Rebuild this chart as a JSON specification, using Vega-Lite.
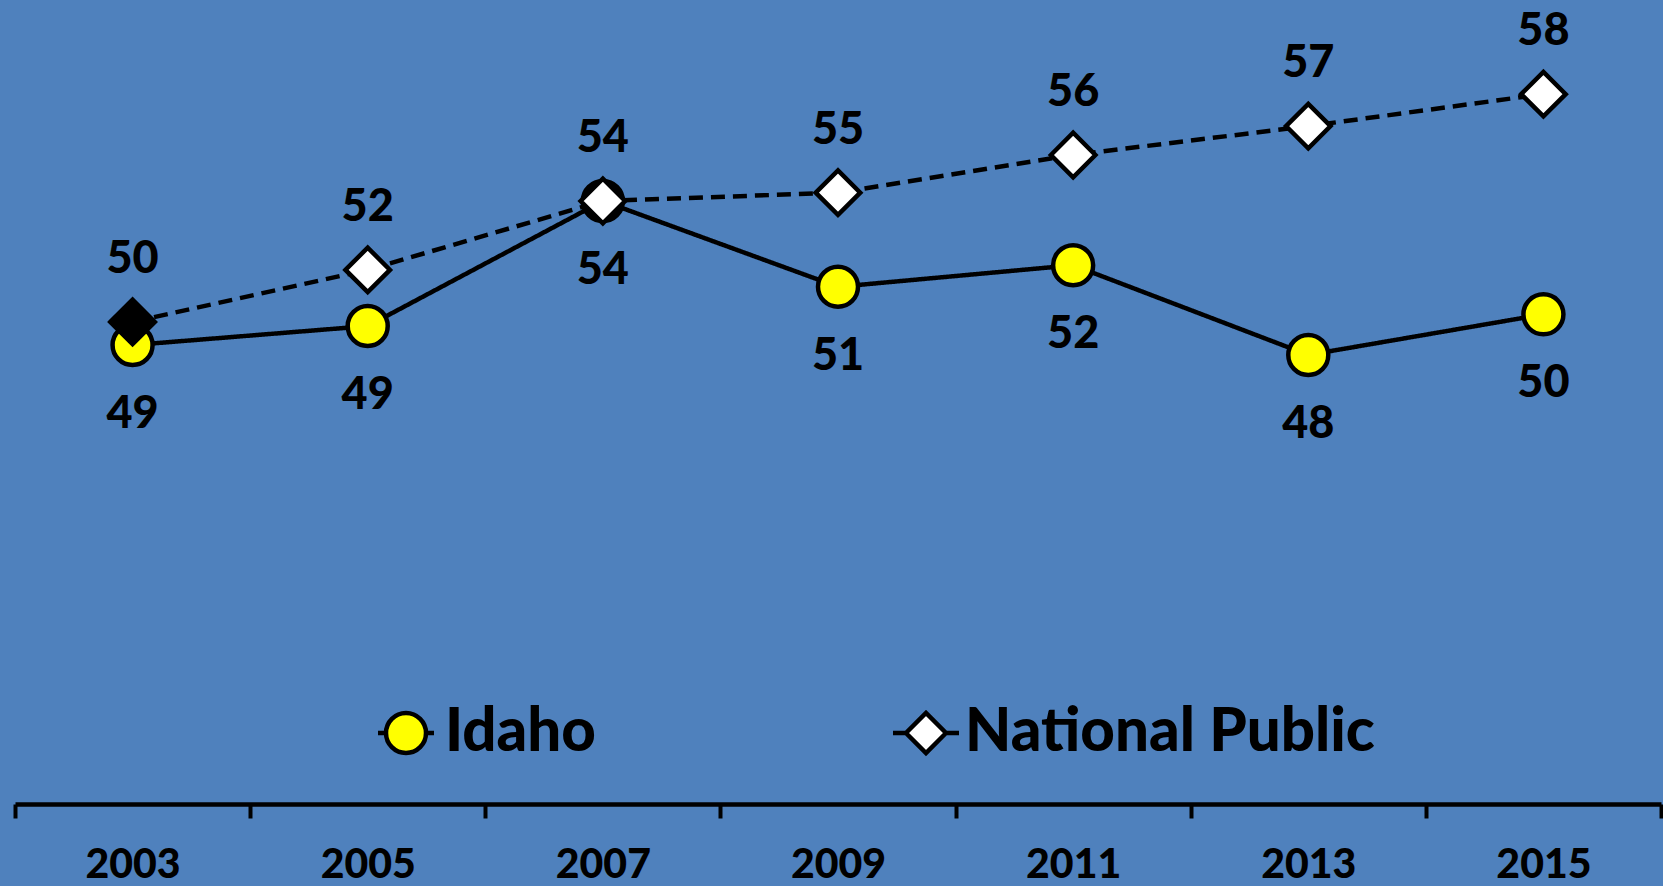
{
  "$schema": "https://vega.github.io/schema/vega-lite/v6.json",
  "width": 1646,
  "height": 804,
  "autosize": {"type": "none"},
  "padding": {"left": 15, "top": 0, "right": 2, "bottom": 82},
  "background": "#4F81BD",
  "config": {"view": {"stroke": null}, "font": "Lato"},
  "data": {
    "values": [
      {"year": "2003", "series": "Idaho", "value": 48.73, "highlight": false},
      {"year": "2005", "series": "Idaho", "value": 49.46, "highlight": false},
      {"year": "2007", "series": "Idaho", "value": 54.27, "highlight": true},
      {"year": "2009", "series": "Idaho", "value": 50.97, "highlight": false},
      {"year": "2011", "series": "Idaho", "value": 51.80, "highlight": false},
      {"year": "2013", "series": "Idaho", "value": 48.35, "highlight": false},
      {"year": "2015", "series": "Idaho", "value": 49.91, "highlight": false},
      {"year": "2003", "series": "National Public", "value": 49.62, "highlight": true},
      {"year": "2005", "series": "National Public", "value": 51.62, "highlight": false},
      {"year": "2007", "series": "National Public", "value": 54.27, "highlight": false},
      {"year": "2009", "series": "National Public", "value": 54.59, "highlight": false},
      {"year": "2011", "series": "National Public", "value": 56.04, "highlight": false},
      {"year": "2013", "series": "National Public", "value": 57.15, "highlight": false},
      {"year": "2015", "series": "National Public", "value": 58.38, "highlight": false}
    ]
  },
  "encoding": {
    "x": {
      "field": "year",
      "type": "ordinal",
      "scale": {"paddingInner": 0, "paddingOuter": 0},
      "axis": {
        "title": null,
        "labelAngle": 0,
        "labelFont": "Lato",
        "labelFontSize": 41,
        "labelFontWeight": 900,
        "labelColor": "black",
        "labelBaseline": "middle",
        "labelPadding": 47,
        "domainColor": "black",
        "domainWidth": 4.5,
        "tickColor": "black",
        "tickWidth": 4,
        "tickSize": 14,
        "tickBand": "extent",
        "grid": false
      }
    },
    "y": {
      "field": "value",
      "type": "quantitative",
      "scale": {"domain": [31.08, 62.0], "zero": false, "nice": false},
      "axis": null
    }
  },
  "layer": [
    {
      "mark": {"type": "line", "strokeWidth": 4.5, "color": "black"},
      "encoding": {
        "strokeDash": {
          "field": "series",
          "type": "nominal",
          "scale": {"domain": ["Idaho", "National Public"], "range": [[1, 0], [14, 8]]},
          "legend": null
        }
      }
    },
    {
      "mark": {"type": "point", "filled": true, "opacity": 1, "stroke": "black", "strokeWidth": 4.5},
      "encoding": {
        "shape": {
          "field": "series",
          "type": "nominal",
          "scale": {"domain": ["Idaho", "National Public"], "range": ["circle", "diamond"]},
          "legend": null
        },
        "fill": {
          "condition": {"test": "datum.highlight", "value": "black"},
          "field": "series",
          "type": "nominal",
          "scale": {"domain": ["Idaho", "National Public"], "range": ["#FFFF00", "#FFFFFF"]},
          "legend": null
        },
        "size": {
          "field": "series",
          "type": "ordinal",
          "scale": {"domain": ["Idaho", "National Public"], "range": [1600, 1980]},
          "legend": null
        }
      }
    },
    {
      "transform": [{"filter": "false"}],
      "mark": {"type": "point", "filled": true, "opacity": 1, "stroke": "black", "strokeWidth": 4.5},
      "encoding": {
        "shape": {
          "field": "series",
          "type": "nominal",
          "scale": {
            "domain": ["Idaho", "National Public"],
            "range": [
              "M-1.4,0H-1M1,0H1.4M1,0A1,1 0 1,1 -1,0A1,1 0 1,1 1,0Z",
              "M-1.65,0H-1M1,0H1.65M1,0L0,1L-1,0L0,-1Z"
            ]
          },
          "legend": {
            "title": null,
            "orient": "none",
            "legendX": 361,
            "legendY": 703,
            "direction": "horizontal",
            "symbolSize": 1600,
            "symbolStrokeWidth": 4.5,
            "symbolStrokeColor": "black",
            "symbolOpacity": 1,
            "labelFont": "Lato",
            "labelFontSize": 60,
            "labelFontWeight": 900,
            "labelColor": "black",
            "labelOffset": 9,
            "labelLimit": 2000,
            "columnPadding": 288,
            "padding": 0,
            "encode": {"symbols": {"update": {"stroke": {"value": "black"}, "strokeWidth": {"value": 4.5}, "opacity": {"value": 1}}}}
          }
        },
        "fill": {
          "field": "series",
          "type": "nominal",
          "scale": {"domain": ["Idaho", "National Public"], "range": ["#FFFF00", "#FFFFFF"]},
          "legend": {
            "title": null,
            "orient": "none",
            "legendX": 361,
            "legendY": 703,
            "direction": "horizontal",
            "symbolSize": 1600,
            "symbolStrokeWidth": 4.5,
            "symbolStrokeColor": "black",
            "symbolOpacity": 1,
            "labelFont": "Lato",
            "labelFontSize": 60,
            "labelFontWeight": 900,
            "labelColor": "black",
            "labelOffset": 9,
            "labelLimit": 2000,
            "columnPadding": 288,
            "padding": 0,
            "encode": {"symbols": {"update": {"stroke": {"value": "black"}, "strokeWidth": {"value": 4.5}, "opacity": {"value": 1}}}}
          }
        }
      }
    },
    {
      "transform": [{"filter": "datum.series === 'National Public'"}],
      "mark": {"type": "text", "dy": -63, "fontSize": 45, "fontWeight": 900, "font": "Lato", "color": "black", "baseline": "middle"},
      "encoding": {"text": {"field": "value", "type": "quantitative", "format": ".0f"}}
    },
    {
      "transform": [{"filter": "datum.series === 'Idaho'"}],
      "mark": {"type": "text", "dy": 69, "fontSize": 45, "fontWeight": 900, "font": "Lato", "color": "black", "baseline": "middle"},
      "encoding": {"text": {"field": "value", "type": "quantitative", "format": ".0f"}}
    }
  ],
  "resolve": {"scale": {"shape": "independent", "fill": "independent", "size": "independent"}}
}
